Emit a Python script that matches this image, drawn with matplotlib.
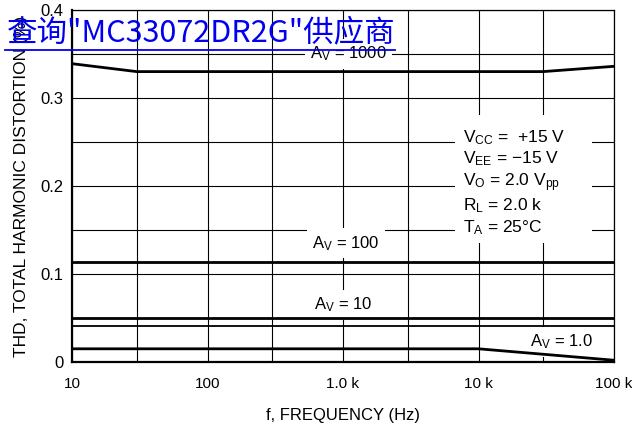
import matplotlib
matplotlib.use('Agg')
import matplotlib.pyplot as plt
from matplotlib.lines import Line2D
from matplotlib.patches import Rectangle
from matplotlib.ticker import FixedLocator, NullFormatter

plt.rcParams['font.family'] = ['Liberation Sans Narrow', 'Liberation Sans', 'DejaVu Sans']
plt.rcParams['mathtext.fontset'] = 'custom'
plt.rcParams['mathtext.rm'] = 'Liberation Sans'
plt.rcParams['mathtext.it'] = 'Liberation Sans'

# THD curves (%)
freq_1000 = [10, 30, 30000, 100000]
thd_1000 = [0.339, 0.330, 0.330, 0.336]
freq_100 = [10, 100000]
thd_100 = [0.114, 0.114]
freq_10 = [10, 100000]
thd_10 = [0.050, 0.050]
thd_10_low = [0.041, 0.041]
freq_1 = [10, 10000, 100000]
thd_1 = [0.015, 0.015, 0.002]

x_ticks = [10, 100, 1000, 10000, 100000]
x_labels = ['10', '100', '1.0 k', '10 k', '100 k']
x_minor = [30, 300, 3000, 30000]
y_ticks = [0, 0.1, 0.2, 0.3, 0.4]
y_labels = ['0', '0.1', '0.2', '0.3', '0.4']
y_minor = [0.05, 0.15, 0.25, 0.35]

conditions = [r'$\mathregular{V_{CC}}$ =  +15 V',
              r'$\mathregular{V_{EE}}$ = $-$15 V',
              r'$\mathregular{V_{O}}$ = 2.0 $\mathregular{V_{pp}}$',
              r'$\mathregular{R_{L}}$ = 2.0 k',
              r'$\mathregular{T_{A}}$ = 25°C']

fig = plt.figure(figsize=(6.32, 4.33), dpi=100)
ax = fig.add_axes([72/632, 1 - 362/433, (614 - 72)/632, (362 - 10)/433])
ax.set_xscale('log')
ax.set_xlim(10, 100000)
ax.set_ylim(0, 0.4)

ax.xaxis.set_major_locator(FixedLocator(x_ticks))
ax.set_xticklabels(x_labels)
ax.xaxis.set_minor_locator(FixedLocator(x_minor))
ax.xaxis.set_minor_formatter(NullFormatter())
ax.set_yticks(y_ticks)
ax.set_yticklabels(y_labels)
ax.yaxis.set_minor_locator(FixedLocator(y_minor))
ax.tick_params(which='both', length=0, labelsize=12)
ax.tick_params(axis='x', labelsize=11, pad=11)
ax.tick_params(axis='y', pad=6)
ax.grid(which='both', color='black', lw=0.8, zorder=1)
ax.set_axisbelow(True)

for s in ['top', 'right']:
    ax.spines[s].set_linewidth(0.9)
for s in ['left', 'bottom']:
    ax.spines[s].set_linewidth(1.6)

lw = 2.0
ax.plot(freq_1000, thd_1000, color='black', lw=lw, zorder=5, solid_capstyle='butt')
ax.plot(freq_100, thd_100, color='black', lw=lw, zorder=5, solid_capstyle='butt')
ax.plot(freq_10, thd_10, color='black', lw=lw, zorder=5, solid_capstyle='butt')
ax.plot(freq_10, thd_10_low, color='black', lw=1.3, zorder=5, solid_capstyle='butt')
ax.plot(freq_1, thd_1, color='black', lw=lw, zorder=5, solid_capstyle='butt')

box = dict(facecolor='white', edgecolor='none', pad=4)
ax.text(1100, 0.350, r'$\mathregular{A_V}$ = 1000', fontsize=12, ha='center', va='center', bbox=box, zorder=4)
ax.text(1050, 0.135, r'$\mathregular{A_V}$ = 100', fontsize=12, ha='center', va='center', bbox=box, zorder=4)
ax.text(1000, 0.065, r'$\mathregular{A_V}$ = 10', fontsize=12, ha='center', va='center', bbox=box, zorder=4)
ax.text(41000, 0.023, r'$\mathregular{A_V}$ = 1.0', fontsize=12, ha='center', va='center', bbox=box, zorder=4)

# white panel behind the test conditions
ax.add_patch(Rectangle((0.7066, 0.338), 0.2528, 0.364, transform=ax.transAxes,
                       facecolor='white', edgecolor='none', zorder=3))
ax.text(7700, 0.204, '\n'.join(conditions), fontsize=12.5, ha='left', va='center',
        linespacing=1.2, zorder=4)

ax.set_xlabel('f, FREQUENCY (Hz)', fontsize=12, labelpad=12)
ax.set_ylabel('THD, TOTAL HARMONIC DISTORTION (%)', fontsize=12.5, labelpad=8)

# watermark link over the top
fig.text(7/632, 1 - 41/433, '查询"MC33072DR2G"供应商', fontsize=22, color='#0000ee',
         family=['Noto Sans CJK SC', 'DejaVu Sans'], va='baseline', ha='left')
fig.add_artist(Line2D([5/632, 395/632], [1 - 50/433, 1 - 50/433], color='#0000ee', lw=1.3,
                      transform=fig.transFigure))

fig.savefig('out.png', dpi=100)
